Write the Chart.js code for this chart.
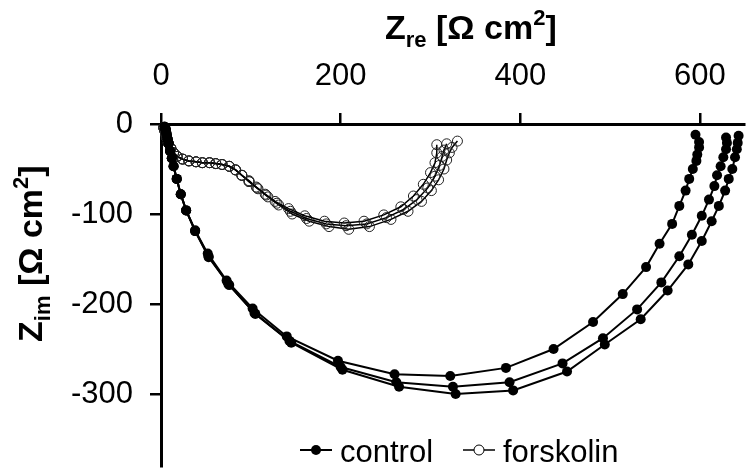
<!DOCTYPE html>
<html>
<head>
<meta charset="utf-8">
<script src="https://cdn.jsdelivr.net/npm/chart.js@4.4.0/dist/chart.umd.min.js"></script>
<style>
    html, body { margin: 0; padding: 0; background: #fff; }
    #Chart { display: block; }
</style>
</head>
<body>
<canvas id="Chart" width="750" height="472"></canvas>
<script>
const FONT = "'Liberation Sans', Arial, sans-serif";

// Nyquist data, Zre / Zim in Ohm cm2, three runs per condition
const controlRe1 = [4, 5, 5.5, 6, 6.6, 7.5, 8.5, 10, 12, 14, 17.5, 22, 28, 38, 52, 73, 102, 140, 197, 260, 322, 384, 437, 481, 514, 540, 555, 569, 577, 584, 588, 592, 596, 597, 599, 599, 595];
const controlIm1 = [-3, -5, -7, -10, -13, -17, -22, -30, -38, -47, -61, -78, -96, -118, -144, -174, -205, -236, -263, -278, -280, -271, -250, -220, -189, -159, -133, -111, -91, -74, -61, -50, -41, -34, -26, -20, -12];
const controlRe2 = [4, 5, 5.5, 6, 6.6, 7.5, 8.5, 10, 12, 14, 17.5, 22, 28, 38, 53, 75, 104, 143, 200, 262, 325, 388, 447, 492, 530, 557, 577, 591, 602, 610, 616, 619, 623, 626, 629, 630, 629];
const controlIm2 = [-3, -5, -7, -10, -13, -17, -22, -30, -38, -47, -61, -78, -96, -119, -147, -178, -210, -241, -270, -287, -292, -287, -266, -238, -206, -176, -147, -123, -102, -84, -69, -57, -47, -37, -28, -21, -15];
const controlRe3 = [4, 5, 5.5, 6, 6.6, 7.5, 8.5, 10, 12, 14, 17.5, 22, 28, 38, 53, 76, 105, 145, 202, 265, 328, 392, 452, 494, 534, 564, 587, 602, 613, 621, 628, 632, 636, 639, 641, 642, 643];
const controlIm3 = [-3, -5, -7, -10, -13, -17, -22, -30, -38, -47, -61, -78, -96, -119, -148, -179, -211, -243, -273, -292, -300, -296, -275, -245, -217, -185, -156, -130, -108, -91, -74, -61, -50, -37, -28, -21, -13];

const forskolinRe1 = [3, 4, 5, 6, 8, 11, 14, 18, 24, 31, 39, 46, 54, 61, 68, 76, 83, 90, 98, 106, 116, 127, 142, 160, 182, 204, 226, 248, 267, 281, 292, 300, 305, 307, 307];
const forskolinIm1 = [-4, -7, -11, -15, -21, -27, -32, -36, -39, -41, -42, -43, -43, -44, -45, -47, -51, -57, -63, -70, -78, -86, -94, -102, -108, -110, -108, -101, -92, -80, -67, -54, -43, -32, -23];
const forskolinRe2 = [3, 4, 5, 6, 8, 11, 14, 18, 24, 31, 39, 46, 54, 61, 68, 76, 83, 90, 98, 107, 117, 129, 144, 162, 184, 206, 229, 251, 270, 285, 297, 305, 310, 313, 315, 318];
const forskolinIm2 = [-4, -7, -11, -15, -21, -27, -32, -36, -39, -41, -42, -43, -43, -44, -45, -47, -51, -57, -64, -71, -79, -88, -97, -105, -111, -113, -111, -104, -95, -84, -71, -58, -46, -36, -29, -22];
const forskolinRe3 = [3, 4, 5, 6, 8, 11, 14, 18, 24, 31, 39, 46, 54, 61, 68, 76, 83, 90, 98, 108, 119, 131, 146, 165, 187, 209, 232, 256, 275, 290, 301, 309, 315, 318, 321, 324, 330];
const forskolinIm3 = [-4, -7, -11, -15, -21, -27, -32, -36, -39, -41, -42, -43, -43, -44, -45, -47, -51, -57, -64, -72, -81, -90, -100, -108, -114, -117, -114, -106, -97, -86, -74, -62, -50, -40, -32, -26, -19];

const xTicks = [0, 200, 400, 600];
const yTicks = [0, -100, -200, -300];

function Points(re, im) {
    return re.map((x, i) => ({ x: x, y: im[i] }));
}

function ControlSet(re, im) {
    return {
        label: 'control', data: Points(re, im), showLine: true, tension: 0, clip: false,
        borderColor: '#000', borderWidth: 2, backgroundColor: '#000',
        pointBackgroundColor: '#000', pointBorderColor: '#000', pointBorderWidth: 0, pointRadius: 5
    };
}

function ForskolinSet(re, im) {
    return {
        label: 'forskolin', data: Points(re, im), showLine: true, tension: 0, clip: false,
        borderColor: '#000', borderWidth: 1.5, backgroundColor: 'rgba(0,0,0,0)',
        pointBackgroundColor: 'rgba(0,0,0,0)', pointBorderColor: '#222', pointBorderWidth: 1, pointRadius: 5
    };
}

// axis title with sub/superscript: [text, size, dy]
function TitleParts(sub) {
    return [['Z', 34, 0], [sub, 22, 8], [' [\u03A9 cm', 34, 0], ['2', 22, -14], [']', 34, 0]];
}

function DrawParts(ctx, parts, x, y) {
    parts.forEach(p => {
        ctx.font = 'bold ' + p[1] + 'px ' + FONT;
        ctx.fillText(p[0], x, y + p[2]);
        x += ctx.measureText(p[0]).width;
    });
}

function LegendItem(ctx, x0, x1, y, filled, text, tx) {
    ctx.strokeStyle = '#000';
    ctx.lineWidth = filled ? 2 : 1.5;
    ctx.beginPath(); ctx.moveTo(x0, y); ctx.lineTo(x1, y); ctx.stroke();
    ctx.beginPath(); ctx.arc((x0 + x1) / 2, y, 5, 0, Math.PI * 2);
    if (filled) { ctx.fillStyle = '#000'; ctx.fill(); }
    else { ctx.fillStyle = '#fff'; ctx.fill(); ctx.lineWidth = 1; ctx.stroke(); }
    ctx.fillStyle = '#000';
    ctx.font = '31px ' + FONT;
    ctx.textAlign = 'left';
    ctx.textBaseline = 'alphabetic';
    ctx.fillText(text, tx, 462);
}

const Labels = {
    id: 'labels',
    afterDraw(chart) {
        const ctx = chart.ctx;
        ctx.save();
        ctx.fillStyle = '#000';
        ctx.textAlign = 'left';
        ctx.textBaseline = 'alphabetic';
        DrawParts(ctx, TitleParts('re'), 385, 39);
        ctx.translate(42, 342);
        ctx.rotate(-Math.PI / 2);
        DrawParts(ctx, TitleParts('im'), 0, 0);
        ctx.restore();
        ctx.save();
        LegendItem(ctx, 300, 332, 450, true, 'control', 340);
        LegendItem(ctx, 463, 495, 450, false, 'forskolin', 503);
        ctx.restore();
    }
};

// the axes own fixed boxes, so the plot area is 161..750 x 124..472
function FixX(s) {
    s.height = 124;
    s.paddingLeft = 0; s.paddingRight = 0;
}

function FixY(s) {
    s.width = 161;
    s.paddingTop = 0; s.paddingBottom = 0;
}

function ChartCanvas() {
    var ctx = document.getElementById('Chart').getContext('2d');
    return new Chart(ctx, {
        type: 'scatter',
        data: {
            datasets: [
                ControlSet(controlRe1, controlIm1),
                ControlSet(controlRe2, controlIm2),
                ControlSet(controlRe3, controlIm3),
                ForskolinSet(forskolinRe1, forskolinIm1),
                ForskolinSet(forskolinRe2, forskolinIm2),
                ForskolinSet(forskolinRe3, forskolinIm3)
            ]
        },
        options: {
            responsive: false,
            animation: false,
            layout: { padding: 0 },
            plugins: { legend: { display: false }, tooltip: { enabled: false } },
            scales: {
                x: {
                    type: 'linear', position: 'top', min: 0, max: 649,
                    afterFit: FixX,
                    afterBuildTicks: s => { s.ticks = xTicks.map(v => ({ value: v })); },
                    border: { color: '#000', width: 3 },
                    grid: { drawOnChartArea: false, color: '#000', lineWidth: 2.5, tickLength: 11 },
                    ticks: { color: '#000', font: { family: FONT, size: 31 }, padding: 18, maxRotation: 0 }
                },
                y: {
                    type: 'linear', position: 'left', min: -380, max: 0,
                    afterFit: FixY,
                    afterBuildTicks: s => { s.ticks = yTicks.map(v => ({ value: v })); },
                    border: { color: '#000', width: 3 },
                    grid: { drawOnChartArea: false, color: '#000', lineWidth: 2.5, tickLength: 11 },
                    ticks: { color: '#000', font: { family: FONT, size: 31 }, padding: 17 }
                }
            }
        },
        plugins: [Labels]
    });
}

ChartCanvas();
</script>
</body>
</html>
